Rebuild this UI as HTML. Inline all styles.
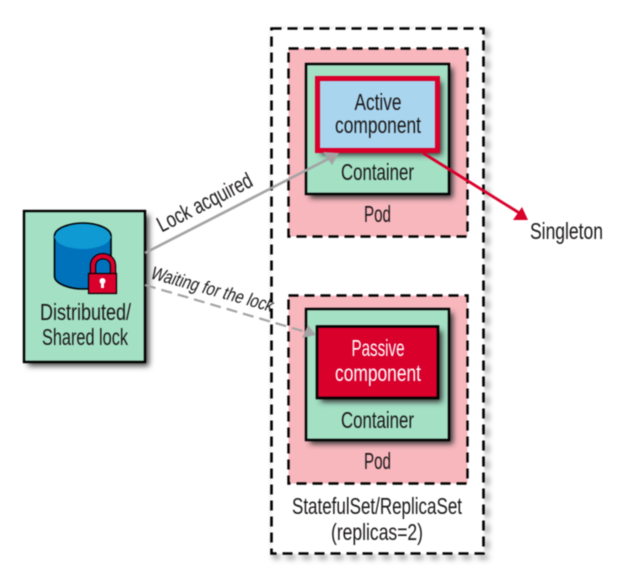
<!DOCTYPE html>
<html><head><meta charset="utf-8"><style>
html,body{margin:0;padding:0;background:#fff;width:635px;height:573px;overflow:hidden}
svg{display:block;filter:blur(.45px)}
text{font-family:"Liberation Sans",sans-serif;font-size:23px;fill:#1a1718;text-anchor:middle}
</style></head><body>
<svg width="635" height="573" viewBox="0 0 635 573" xmlns="http://www.w3.org/2000/svg">
<defs><filter id="s" x="-20%" y="-20%" width="150%" height="150%"><feGaussianBlur stdDeviation="2.8"/></filter></defs>
<!-- shadows -->
<rect x="275" y="32" width="212" height="525" fill="none" stroke="#555" stroke-width="2.5" stroke-dasharray="10 6" filter="url(#s)"/>
<rect x="292" y="52" width="179" height="189" fill="#444" filter="url(#s)"/>
<rect x="292" y="299" width="179" height="189" fill="#444" filter="url(#s)"/>
<rect x="28" y="215" width="121" height="151" fill="#444" filter="url(#s)"/>
<!-- outer -->
<rect x="271.500" y="28.500" width="212" height="525" fill="#fff" stroke="#000" stroke-width="2.600" stroke-dasharray="10 6"/>
<!-- pod 1 -->
<rect x="288.500" y="48.500" width="179" height="188" fill="#f8b7bd" stroke="#000" stroke-width="2.400" stroke-dasharray="10 6"/>
<rect x="310" y="68" width="143" height="130" fill="#333" filter="url(#s)"/>
<rect x="306" y="64" width="143" height="130" fill="#a3e0c4" stroke="#000" stroke-width="2.400"/>
<rect x="321" y="82" width="121" height="73" fill="#333" filter="url(#s)"/>
<rect x="317.500" y="78.500" width="120" height="72" fill="#a9d5ee" stroke="#d9002c" stroke-width="5"/>
<text x="378" y="110" textLength="47" lengthAdjust="spacingAndGlyphs">Active</text>
<text x="378" y="133" textLength="86" lengthAdjust="spacingAndGlyphs">component</text>
<text x="377.500" y="180" textLength="73" lengthAdjust="spacingAndGlyphs">Container</text>
<text x="377.500" y="222" textLength="27" lengthAdjust="spacingAndGlyphs">Pod</text>
<!-- pod 2 -->
<rect x="288.500" y="295.500" width="179" height="188" fill="#f8b7bd" stroke="#000" stroke-width="2.400" stroke-dasharray="10 6"/>
<rect x="310" y="313" width="143" height="131" fill="#333" filter="url(#s)"/>
<rect x="306" y="309" width="143" height="131" fill="#a3e0c4" stroke="#000" stroke-width="2.400"/>
<rect x="321" y="331" width="121" height="71" fill="#333" filter="url(#s)"/>
<rect x="317" y="326.500" width="121" height="71.500" fill="#d9002c" stroke="#000" stroke-width="2.600"/>
<text x="378" y="356" textLength="53" lengthAdjust="spacingAndGlyphs" style="fill:#fff">Passive</text>
<text x="378" y="381" textLength="86" lengthAdjust="spacingAndGlyphs" style="fill:#fff">component</text>
<text x="377.500" y="428" textLength="73" lengthAdjust="spacingAndGlyphs">Container</text>
<text x="377.500" y="469" textLength="27" lengthAdjust="spacingAndGlyphs">Pod</text>
<text x="377" y="514" textLength="170" lengthAdjust="spacingAndGlyphs">StatefulSet/ReplicaSet</text>
<text x="377" y="540" textLength="92" lengthAdjust="spacingAndGlyphs">(replicas=2)</text>
<!-- lock box -->
<rect x="24" y="211" width="121" height="151" fill="#a3e0c4" stroke="#000" stroke-width="2.400"/>
<path d="M54.500 236 V276 C54.500 284 70 289 83 289 C96 289 111 284 111 276 V236 Z" fill="#0072bc" stroke="#000" stroke-width="1.600"/>
<ellipse cx="82.700" cy="236" rx="28.300" ry="13" fill="#0f9ad3" stroke="none"/>
<path d="M54.500 236 C54.500 228 70 223 83 223 C96 223 111 228 111 236" fill="none" stroke="#000" stroke-width="1.600"/>
<path d="M93 274 V266 C93 253 113 253 113 266 V274" fill="none" stroke="#000" stroke-width="6.500"/>
<path d="M93 274 V266 C93 253 113 253 113 266 V274" fill="none" stroke="#d9002c" stroke-width="4.200"/>
<rect x="88.500" y="273.500" width="28" height="20" fill="#d9002c" stroke="#000" stroke-width="1.200"/>
<circle cx="102.500" cy="281" r="3" fill="#fff"/><rect x="101" y="281" width="3" height="7" fill="#fff"/>
<text x="85.500" y="320" textLength="91" lengthAdjust="spacingAndGlyphs">Distributed/</text>
<text x="85" y="345" textLength="86" lengthAdjust="spacingAndGlyphs">Shared lock</text>
<!-- connectors -->
<line x1="145" y1="253" x2="330" y2="158" stroke="#a3a3a3" stroke-width="2.600"/>
<polygon points="339,153 323,152 332,165" fill="#a3a3a3"/>
<line x1="145" y1="285" x2="306" y2="332" stroke="#a3a3a3" stroke-width="2.200" stroke-dasharray="11 6"/>
<polygon points="316,335 308,325 302,338" fill="#a3a3a3"/>
<line x1="423" y1="153" x2="521" y2="214" stroke="#d9002c" stroke-width="2.800"/>
<polygon points="528,220 513,220 522,207" fill="#d9002c"/>
<text x="530" y="239" textLength="73" lengthAdjust="spacingAndGlyphs" style="text-anchor:start">Singleton</text>
<text transform="translate(208 209) rotate(-27)" textLength="104" lengthAdjust="spacingAndGlyphs" style="font-size:22px">Lock acquired</text>
<text transform="translate(210 295) rotate(15.500) skewX(-10)" textLength="126" lengthAdjust="spacingAndGlyphs" style="font-size:18.500px">Waiting for the lock</text>
</svg>
</body></html>
